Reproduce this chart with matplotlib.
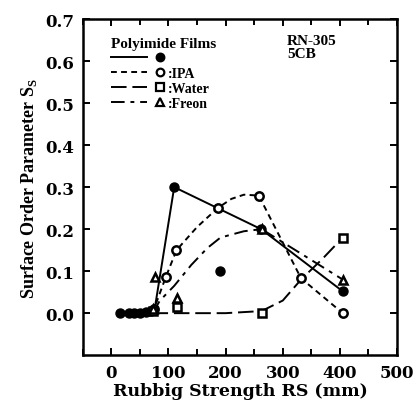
import matplotlib
matplotlib.use("Agg")
import matplotlib.pyplot as plt
from matplotlib.lines import Line2D
from matplotlib.legend_handler import HandlerTuple
from matplotlib.ticker import MultipleLocator

# rubbing strength RS (mm) vs surface order parameter S_S
# filled circles (no solvent)
pi_x = [15, 30, 40, 50, 60, 70, 110, 190, 262, 405]
pi_y = [0.0, 0.0, 0.0, 0.0, 0.003, 0.005, 0.30, 0.10, 0.20, 0.052]
pi_line_x = [15, 70, 77, 110, 262, 405]
pi_line_y = [0.0, 0.0, 0.02, 0.30, 0.20, 0.052]

# IPA (open circles)
ipa_x = [75, 95, 114, 186, 258, 332, 405]
ipa_y = [0.01, 0.085, 0.15, 0.25, 0.28, 0.083, 0.0]
ipa_line_x = [72, 95, 114, 150, 186, 210, 232, 258, 332, 405]
ipa_line_y = [0.0, 0.085, 0.15, 0.205, 0.25, 0.272, 0.282, 0.28, 0.083, 0.0]

# Water (open squares)
wat_x = [72, 115, 263, 405]
wat_y = [0.005, 0.014, 0.0, 0.18]
wat_line_x = [72, 115, 160, 200, 263, 300, 332, 370, 405]
wat_line_y = [0.0, 0.0, 0.0, 0.0, 0.005, 0.03, 0.08, 0.13, 0.18]

# Freon (open triangles)
fre_x = [72, 77, 115, 263, 405]
fre_y = [0.01, 0.085, 0.036, 0.20, 0.08]
fre_line_x = [72, 85, 110, 140, 168, 191, 232, 263, 405]
fre_line_y = [0.0, 0.03, 0.065, 0.115, 0.155, 0.18, 0.195, 0.20, 0.08]

dotted = (0, (3, 2.2))
longdash = (0, (8, 3))
dashdot = (0, (7, 3, 2, 3))

fig = plt.figure(figsize=(4.14, 4.02), dpi=100)
ax = fig.add_axes([0.200, 0.114, 0.759, 0.836])

lw = 1.4
ax.plot(pi_line_x, pi_line_y, "k-", lw=lw)
ax.plot(ipa_line_x, ipa_line_y, color="k", ls=dotted, lw=lw)
ax.plot(wat_line_x, wat_line_y, color="k", ls=longdash, lw=lw)
ax.plot(fre_line_x, fre_line_y, color="k", ls=dashdot, lw=lw)

ax.plot(pi_x, pi_y, "o", ms=6.5, mfc="k", mec="k")
ax.plot(ipa_x, ipa_y, "o", ms=6, mfc="white", mec="k", mew=1.8)
ax.plot(wat_x, wat_y, "s", ms=6, mfc="white", mec="k", mew=1.8)
ax.plot(fre_x, fre_y, "^", ms=6, mfc="white", mec="k", mew=1.8)

ax.set_xlim(-50, 500)
ax.set_ylim(-0.1, 0.7)
ax.xaxis.set_major_locator(MultipleLocator(100))
ax.xaxis.set_minor_locator(MultipleLocator(50))
ax.set_yticks([0.0, 0.1, 0.2, 0.3, 0.4, 0.5, 0.6, 0.7])
ax.set_yticklabels(["0.0", "0.1", "0.2", "0.3", "0.4", "0.5", "0.6", "0.7"])
ax.tick_params(which="both", direction="in", top=True, right=True,
               length=5, width=1.4, pad=6)
ax.tick_params(which="minor", length=4)
for lab in ax.get_xticklabels() + ax.get_yticklabels():
    lab.set_fontfamily("DejaVu Serif")
    lab.set_fontweight("bold")
    lab.set_fontsize(12)
for sp in ax.spines.values():
    sp.set_linewidth(1.8)

ax.set_xlabel("Rubbig Strength RS (mm)", family="DejaVu Serif",
              fontweight="bold", fontsize=12.5, labelpad=1)
ax.set_ylabel(r"Surface Order Parameter S$_\mathregular{S}$",
              family="Liberation Serif", fontweight="bold", fontsize=13,
              labelpad=5)

# legend: line then marker, as in the figure
def seg(ls):
    return Line2D([], [], color="k", ls=ls, lw=lw)

def mk(m, fc):
    return Line2D([], [], ls="none", marker=m, ms=5.5, mfc=fc, mec="k", mew=1.6)

handles = [(seg("-"), mk("o", "k")), (seg(dotted), mk("o", "white")),
           (seg(longdash), mk("s", "white")), (seg(dashdot), mk("^", "white"))]
labels = ["", ":IPA", ":Water", ":Freon"]
leg = ax.legend(handles, labels,
                handler_map={tuple: HandlerTuple(ndivide=None, pad=-0.36)},
                loc="upper left", bbox_to_anchor=(0.06, 0.975), frameon=False,
                title="Polyimide Films", alignment="left", handlelength=4.8,
                handletextpad=-0.7, labelspacing=0.14, borderpad=0.2,
                prop={"family": "Liberation Serif", "weight": "bold", "size": 10})
leg.get_title().set_fontfamily("Liberation Serif")
leg.get_title().set_fontweight("bold")
leg.get_title().set_fontsize(11)

ax.text(0.65, 0.955, "RN-305\n5CB", transform=ax.transAxes, va="top", ha="left",
        family="Liberation Serif", fontweight="bold", fontsize=11, linespacing=1.0)

fig.savefig("out.png", dpi=100)
